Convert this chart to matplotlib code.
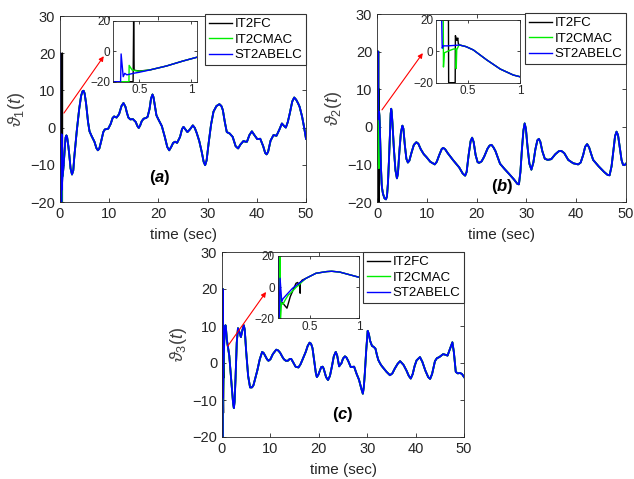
import numpy as np
import matplotlib
matplotlib.use('Agg')
import matplotlib.pyplot as plt

plt.rcParams['font.family'] = ['Liberation Sans', 'DejaVu Sans']
plt.rcParams['mathtext.fontset'] = 'custom'
plt.rcParams['mathtext.rm'] = 'Liberation Sans'
plt.rcParams['mathtext.it'] = 'Liberation Sans:italic'
plt.rcParams['mathtext.bf'] = 'Liberation Sans:bold'
plt.rcParams['mathtext.bfit'] = 'Liberation Sans:bold:italic'

# ---------------- data ----------------
series_names = ['IT2FC', 'IT2CMAC', 'ST2ABELC']
series_colors = ['#000000', '#00ee00', '#0000ff']

# Panel (a)
a_tail_t = [0.6, 0.76, 0.92, 1.05, 1.15, 1.3, 1.45, 1.7, 1.9, 2.15, 2.44, 2.7, 2.9, 3.4, 3.9, 4.3, 4.6,
            4.8, 5.0, 5.3, 5.7, 6.0, 6.4, 7.0, 7.4, 7.7, 8.0, 8.4, 8.8, 9.1, 9.5, 9.8, 10.3, 10.7, 11.0,
            11.5, 12.0, 12.5, 12.9, 13.3, 13.6, 13.9, 14.3, 14.8, 15.4, 15.7, 16.0, 16.3, 16.6, 17.0,
            17.5, 17.8, 18.2, 18.5, 18.8, 19.0, 19.3, 19.6, 20.0, 20.7, 21.3, 21.8, 22.2, 22.6, 23.0,
            23.4, 23.8, 24.4, 24.8, 25.1, 25.5, 25.9, 26.4, 27.0, 27.4, 27.8, 28.3, 28.8, 29.2, 29.5,
            29.8, 30.2, 30.7, 31.2, 31.8, 32.4, 32.8, 33.1, 33.5, 33.9, 34.5, 35.1, 35.7, 36.2, 36.7,
            37.3, 37.7, 38.0, 38.5, 39.0, 39.5, 40.1, 40.7, 41.3, 41.7, 42.0, 42.3, 42.8, 43.4, 44.0,
            44.6, 45.1, 45.5, 45.9, 46.3, 46.7, 47.2, 47.6, 48.0, 48.4, 48.7, 49.2, 49.6, 50.0]
a_tail_v = [-12.3, -9.7, -6.4, -4.0, -2.6, -2.1, -2.6, -5.0, -7.5, -11.0, -12.6, -11.5, -8.0, -1.0, 5.0,
            8.6, 9.8, 9.9, 9.2, 6.5, 1.5, -1.0, -2.2, -3.8, -5.5, -6.1, -5.6, -3.5, -1.2, -0.5, -0.4,
            -0.3, 1.0, 2.6, 3.0, 2.7, 3.6, 5.8, 6.6, 5.6, 4.0, 2.7, 2.2, 2.3, 1.5, 0.5, -0.1, 0.6, 1.7,
            2.4, 2.6, 2.9, 5.0, 7.8, 8.9, 8.2, 5.8, 3.3, 2.2, 0.4, -2.5, -5.2, -6.1, -5.2, -4.1, -3.8,
            -4.1, -2.5, -0.4, 0.2, -0.5, -1.2, -0.5, 0.6, -0.1, -1.5, -3.6, -6.5, -9.2, -10.1, -8.8,
            -4.3, 0.8, 4.3, 5.8, 6.3, 5.8, 4.7, 1.5, -1.2, -1.6, -2.5, -5.0, -5.6, -4.5, -3.6, -3.8,
            -3.8, -2.0, -1.0, -2.0, -3.1, -3.0, -5.0, -6.8, -7.2, -6.5, -3.5, -2.0, -2.2, -0.5, 1.1,
            0.5, 0.0, 1.5, 3.8, 7.0, 8.1, 7.5, 6.5, 5.6, 3.0, 0.2, -3.0]
a_fc_t = [0, 0.44, 0.445, 0.45, 0.5]
a_fc_v = [-20, -20, 20, -12.5, -13.0]
a_cmac_t = [0, 0.40, 0.402, 0.43, 0.5]
a_cmac_v = [-20, -20, -9.3, -12.3, -13.2]
a_st_t = [0, 0.02, 0.32, 0.325, 0.345, 0.36, 0.38, 0.45, 0.5]
a_st_v = [20, -20, -20, -1.8, -16.7, -14.5, -15.5, -14.4, -13.8]

# Panel (b)
b_tail_t = [0.42, 0.48, 0.55, 0.68, 0.81, 0.935, 1.0, 1.2, 1.5, 1.8, 2.0, 2.2, 2.4, 2.6, 2.75, 2.85,
            2.95, 3.1, 3.4, 3.7, 4.0, 4.2, 4.5, 4.8, 5.1, 5.3, 5.6, 5.9, 6.2, 6.5, 6.9, 7.4, 7.9, 8.3,
            8.8, 9.4, 9.9, 10.7, 11.6, 12.0, 12.5, 13.0, 13.3, 13.7, 14.2, 15.3, 16.5, 17.2, 17.7,
            18.0, 18.4, 18.8, 19.1, 19.4, 19.8, 20.2, 20.5, 21.0, 21.5, 22.2, 22.6, 23.0, 23.4, 23.8,
            24.7, 25.6, 26.5, 27.5, 28.2, 28.5, 28.8, 29.1, 29.4, 29.65, 29.9, 30.2, 30.6, 31.0, 31.4,
            31.8, 32.2, 32.5, 32.8, 33.2, 33.7, 34.3, 35.0, 35.8, 36.5, 37.0, 37.6, 38.4, 39.4, 40.4,
            40.9, 41.4, 41.8, 42.2, 42.6, 43.0, 43.4, 44.5, 45.6, 46.3, 46.7, 47.1, 47.5, 47.8, 48.1,
            48.4, 48.7, 49.1, 49.4, 49.7, 50.0]
b_tail_v = [4.0, 3.0, 0.9, -5.5, -11.3, -15.1, -16.2, -17.8, -19.0, -19.3, -18.5, -15.0, -9.0, -2.0,
            3.5, 4.8, 4.0, 1.0, -6.0, -11.5, -13.7, -12.5, -6.5, -1.5, 0.3, -0.5, -5.0, -8.5, -9.5,
            -9.0, -7.0, -4.8, -4.1, -4.5, -6.0, -7.3, -8.0, -9.3, -10.0, -9.3, -7.5, -5.9, -5.6, -6.0,
            -7.0, -8.9, -10.8, -12.4, -13.0, -12.0, -7.5, -3.8, -2.9, -4.0, -7.5, -9.4, -9.6, -9.2,
            -8.0, -5.8, -5.0, -4.8, -5.5, -6.5, -9.8, -11.2, -12.5, -14.0, -15.2, -15.3, -12.0, -6.0,
            -1.0, 0.9, -0.5, -5.0, -9.8, -11.4, -9.5, -6.0, -3.6, -3.2, -4.0, -6.5, -8.5, -8.8, -8.6,
            -7.3, -6.5, -6.4, -7.0, -8.8, -9.7, -10.0, -9.5, -7.5, -5.3, -4.6, -5.5, -7.2, -8.8,
            -10.5, -12.0, -12.8, -12.9, -10.5, -6.0, -2.5, -1.3, -2.2, -5.0, -8.8, -10.1, -10.2, -9.8]
b_fc_t = [0, 0.31, 0.312, 0.375, 0.377, 0.39, 0.40, 0.405, 0.41]
b_fc_v = [20, 20, -20, -20, 10, 7, 8.5, 5, 4.5]
b_cmac_t = [0, 0.26, 0.262, 0.27, 0.3, 0.36, 0.383, 0.385, 0.39, 0.41]
b_cmac_v = [20, 20, -10, -1, 0, 1.5, 1.5, -11, 1, 3.8]
b_st_t = [0, 0.245, 0.25, 0.26, 0.3, 0.35, 0.41]
b_st_v = [20, 20, 2, 3.5, 3.5, 3.7, 4.0]

# Panel (c)
c_tail_t = [0.46, 0.56, 0.67, 0.72, 0.80, 0.91, 1.0, 1.5, 2.0, 2.3, 2.45, 2.6, 2.8, 3.05, 3.3, 3.5, 3.9,
            4.2, 4.5, 4.7, 5.0, 5.4, 5.8, 6.2, 6.5, 7.3, 7.8, 8.3, 8.6, 8.9, 9.3, 9.6, 10.0, 10.5, 11.2,
            11.6, 12.0, 12.5, 12.8, 13.2, 13.6, 14.0, 14.3, 14.7, 15.2, 15.8, 16.2, 16.5, 17.3, 17.7,
            18.1, 18.4, 18.7, 19.1, 19.4, 19.6, 19.9, 20.5, 20.8, 21.0, 21.5, 21.9, 22.3, 22.7, 23.1,
            23.5, 23.8, 24.2, 24.7, 25.0, 25.4, 25.7, 26.1, 26.6, 27.3, 27.8, 28.3, 28.8, 29.1, 29.3,
            29.5, 29.8, 30.1, 30.35, 30.6, 31.0, 31.3, 31.7, 32.0, 32.3, 32.7, 33.0, 34.0, 34.7, 35.2,
            35.7, 36.3, 36.8, 37.5, 38.1, 38.6, 39.0, 39.4, 39.8, 40.2, 40.9, 41.4, 42.0, 42.6, 43.0,
            43.4, 44.0, 44.4, 44.9, 45.3, 45.7, 46.2, 46.6, 47.1, 47.6, 47.9, 48.3, 48.7, 49.2, 49.6,
            50.0]
c_tail_v = [5.7, 8.9, 10.0, 10.2, 9.7, 7.8, 6.3, 2.0, -6.0, -11.0, -12.2, -10.5, -4.0, 5.5, 9.4, 8.8,
            7.0, 8.8, 10.2, 9.0, 3.0, -3.5, -6.6, -6.6, -6.0, -2.0, 1.0, 3.0, 2.7, 2.0, 1.0, 0.6, 1.0,
            2.4, 3.6, 3.4, 2.8, 1.6, 1.0, 0.6, 0.6, 1.1, 1.1, 0.2, -1.0, -1.2, -0.4, 0.5, 3.0, 4.6, 5.5,
            5.2, 4.0, 0.0, -2.8, -3.8, -3.2, -1.1, -1.0, -1.5, -3.8, -4.6, -3.5, -1.0, 1.8, 3.0, 2.0,
            -0.9, 0.0, 1.2, 1.8, 1.5, 0.5, -1.1, -1.0, -2.9, -4.5, -7.0, -8.3, -6.5, -3.0, 3.5, 8.7,
            7.8, 6.0, 4.6, 4.4, 3.9, 2.2, 0.8, -0.2, -0.8, -2.4, -3.3, -2.8, -1.5, -0.2, 0.5, -0.5,
            -2.0, -3.5, -4.2, -3.0, -0.8, 0.7, 1.6, 0.3, -2.0, -3.8, -4.3, -3.0, 0.5, 1.3, 1.6, 2.0,
            2.4, 2.2, 2.0, 3.8, 5.6, 3.0, -2.4, -2.8, -2.7, -3.0, -3.8]
c_fc_t = [0, 0.19, 0.195, 0.2, 0.22, 0.266, 0.30, 0.358, 0.375, 0.39, 0.398, 0.40, 0.402, 0.42]
c_fc_v = [-20, -20, 20, -10, -10, -13.5, -6, 2.5, 3, 1, 3, -3.9, 3, 4.5]
c_cmac_t = [0, 0.19, 0.195, 0.2, 0.21, 0.225, 0.25, 0.28, 0.30, 0.323, 0.36, 0.39, 0.42]
c_cmac_v = [-20, -20, 20, -20, -10, -11, -8, -5, -4, -2.5, 0, 1.5, 3.5]
c_st_t = [0, 0.005, 0.17, 0.175, 0.182, 0.19, 0.196, 0.213, 0.225, 0.26, 0.323, 0.39, 0.42]
c_st_v = [20, -20, -20, 20, -20, -15, 5.7, -9.3, -7.5, -5, -0.7, 2.5, 4.0]

main_xticks = [0, 10, 20, 30, 40, 50]
main_yticks = [-20, -10, 0, 10, 20, 30]
inset_xticks = [0.5, 1]
inset_xlabels = ['0.5', '1']
inset_yticks = [-20, 0, 20]

panels = [
    dict(tail=(a_tail_t, a_tail_v), early=[(a_fc_t, a_fc_v), (a_cmac_t, a_cmac_v), (a_st_t, a_st_v)],
         ylabel=r'$\vartheta_1(t)$', tag=r'$\mathbf{(}\mathbfit{a}\mathbf{)}$', tag_xy=(20.3, -13.4),
         arrow=((0.8, 3.9), (8.9, 19.2)), inset_xlim=(0.25, 1.05),
         ax_rect=[60, 16, 306, 202], in_rect=[113.3, 20.7, 196.7, 81.7], leg_xy=(306, 14)),
    dict(tail=(b_tail_t, b_tail_v), early=[(b_fc_t, b_fc_v), (b_cmac_t, b_cmac_v), (b_st_t, b_st_v)],
         ylabel=r'$\vartheta_2(t)$', tag=r'$\mathbf{(}\mathbfit{b}\mathbf{)}$', tag_xy=(25.1, -16.0),
         arrow=((1.0, 4.5), (9.2, 19.6)), inset_xlim=(0.19, 1.0),
         ax_rect=[377, 14, 626, 202], in_rect=[436, 20, 520, 82.7], leg_xy=(626, 13)),
    dict(tail=(c_tail_t, c_tail_v), early=[(c_fc_t, c_fc_v), (c_cmac_t, c_cmac_v), (c_st_t, c_st_v)],
         ylabel=r'$\vartheta_3(t)$', tag=r'$\mathbf{(}\mathbfit{c}\mathbf{)}$', tag_xy=(25.0, -14.0),
         arrow=((1.2, 4.6), (9.1, 19.2)), inset_xlim=(0.17, 1.0),
         ax_rect=[222, 252, 464, 437], in_rect=[277.5, 256, 359.3, 318.3], leg_xy=(464, 252)),
]

W, H = 634, 479
fig = plt.figure(figsize=(W / 100, H / 100), dpi=100)
txt = '#262626'


def rect(r):
    x0, y0, x1, y1 = r
    return [x0 / W, 1 - y1 / H, (x1 - x0) / W, (y1 - y0) / H]


def style(ax, fs):
    for s in ax.spines.values():
        s.set_color(txt)
        s.set_linewidth(0.6)
    ax.tick_params(direction='in', top=True, right=True, length=3, width=0.6,
                   colors=txt, labelsize=fs, labelcolor=txt)


for p in panels:
    ax = fig.add_axes(rect(p['ax_rect']))
    tt, tv = p['tail']
    lines = []
    for (et, ev), col, name in zip(p['early'], series_colors, series_names):
        t = np.concatenate([et, tt])
        v = np.concatenate([ev, tv])
        ax.plot(t, v, color=col, lw=1.3, solid_joinstyle='round')
        ln, = ax.plot([], [], color=col, lw=1.0, label=name)
        lines.append(ln)
    ax.set_xlim(0, 50)
    ax.set_ylim(-20, 30)
    ax.set_xticks(main_xticks)
    ax.set_yticks(main_yticks)
    style(ax, 10.5)
    ax.set_xlabel('time (sec)', fontsize=11, color=txt, labelpad=5)
    ax.set_ylabel(p['ylabel'], fontsize=13, color='#404040', labelpad=2)
    ax.text(p['tag_xy'][0], p['tag_xy'][1], p['tag'], fontsize=12, ha='center', va='center', color='k')
    (x0, y0), (x1, y1) = p['arrow']
    ax.annotate('', xy=(x1, y1), xytext=(x0, y0),
                arrowprops=dict(arrowstyle='-|>', color='#ff0000', lw=0.8, mutation_scale=7,
                                shrinkA=0, shrinkB=0))
    leg = ax.legend(handles=lines, loc='upper right',
                    bbox_to_anchor=(p['leg_xy'][0] / W, 1 - p['leg_xy'][1] / H),
                    bbox_transform=fig.transFigure, borderaxespad=0, fontsize=9.5,
                    fancybox=False, edgecolor='#333333', framealpha=1, borderpad=0.3,
                    handlelength=1.8, handletextpad=0.15, labelspacing=0.25)
    leg.get_frame().set_linewidth(0.8)
    for t_ in leg.get_texts():
        t_.set_color('k')

    ins = fig.add_axes(rect(p['in_rect']))
    for (et, ev), col in zip(p['early'], series_colors):
        t = np.concatenate([et, tt])
        v = np.concatenate([ev, tv])
        ins.plot(t, v, color=col, lw=1.0)
    ins.set_xlim(*p['inset_xlim'])
    ins.set_ylim(-20, 20)
    ins.set_xticks(inset_xticks)
    ins.set_xticklabels(inset_xlabels)
    ins.set_yticks(inset_yticks)
    style(ins, 8.5)
    ins.tick_params(length=2, pad=2)

fig.savefig('out.png', dpi=100)
